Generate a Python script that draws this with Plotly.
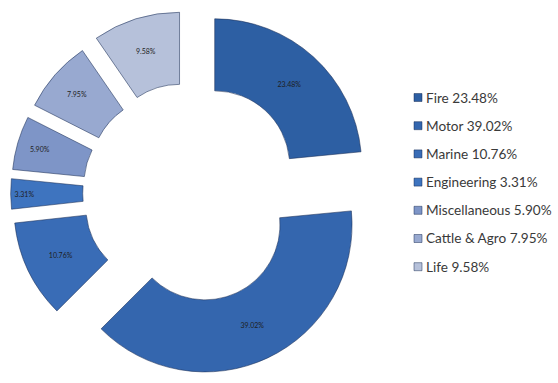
import plotly.graph_objects as go

# Premium share by line of business
categories = ["Fire", "Motor", "Marine", "Engineering", "Miscellaneous", "Cattle & Agro", "Life"]
shares = [23.48, 39.02, 10.76, 3.31, 5.90, 7.95, 9.58]
colors = ["#2d5fa3", "#3466ae", "#396cb6", "#3e74bf", "#7e95c7", "#98a9d0", "#b6c1da"]
pulls = [0.25, 0.24, 0.22, 0.22, 0.22, 0.22, 0.24]

W, H = 558, 383
R = 147                       # outer radius in px
cx, cy = 190, 193             # ring centre in px
box = 2 * R * (1 + max(pulls))

fig = go.Figure(go.Pie(
    labels=categories,
    values=shares,
    sort=False,
    direction="clockwise",
    rotation=0,
    hole=0.51,
    pull=pulls,
    marker=dict(colors=colors, line=dict(color="rgba(25,45,85,0.55)", width=1)),
    texttemplate="%{value:.2f}%",
    textposition="inside",
    insidetextorientation="horizontal",
    textfont=dict(size=7, color="#1e1e1e", family="Lato"),
    domain=dict(x=[(cx - box / 2) / W, (cx + box / 2) / W],
                y=[1 - (cy + box / 2) / H, 1 - (cy - box / 2) / H]),
    showlegend=False,
    hoverinfo="label+percent",
))

# Hand-built legend column on the right
leg_x, leg_y0, leg_dy, sq = 414, 97.5, 28.2, 8
for i, (name, val, col) in enumerate(zip(categories, shares, colors)):
    y = leg_y0 + i * leg_dy
    fig.add_shape(type="rect", xref="paper", yref="paper",
                  x0=leg_x / W, x1=(leg_x + sq) / W,
                  y0=1 - (y + sq / 2) / H, y1=1 - (y - sq / 2) / H,
                  fillcolor=col, line=dict(color="rgba(20,40,80,0.6)", width=0.8))
    fig.add_annotation(xref="paper", yref="paper",
                       x=(leg_x + sq + 2) / W, y=1 - y / H,
                       xanchor="left", yanchor="middle", showarrow=False,
                       text=f"{name} {val:.2f}%",
                       font=dict(family="Lato", size=13.6, color="#3a3a3a"))

fig.update_layout(
    width=W, height=H,
    margin=dict(l=0, r=0, t=0, b=0),
    paper_bgcolor="white",
    plot_bgcolor="white",
)

fig.write_html("out.html")
